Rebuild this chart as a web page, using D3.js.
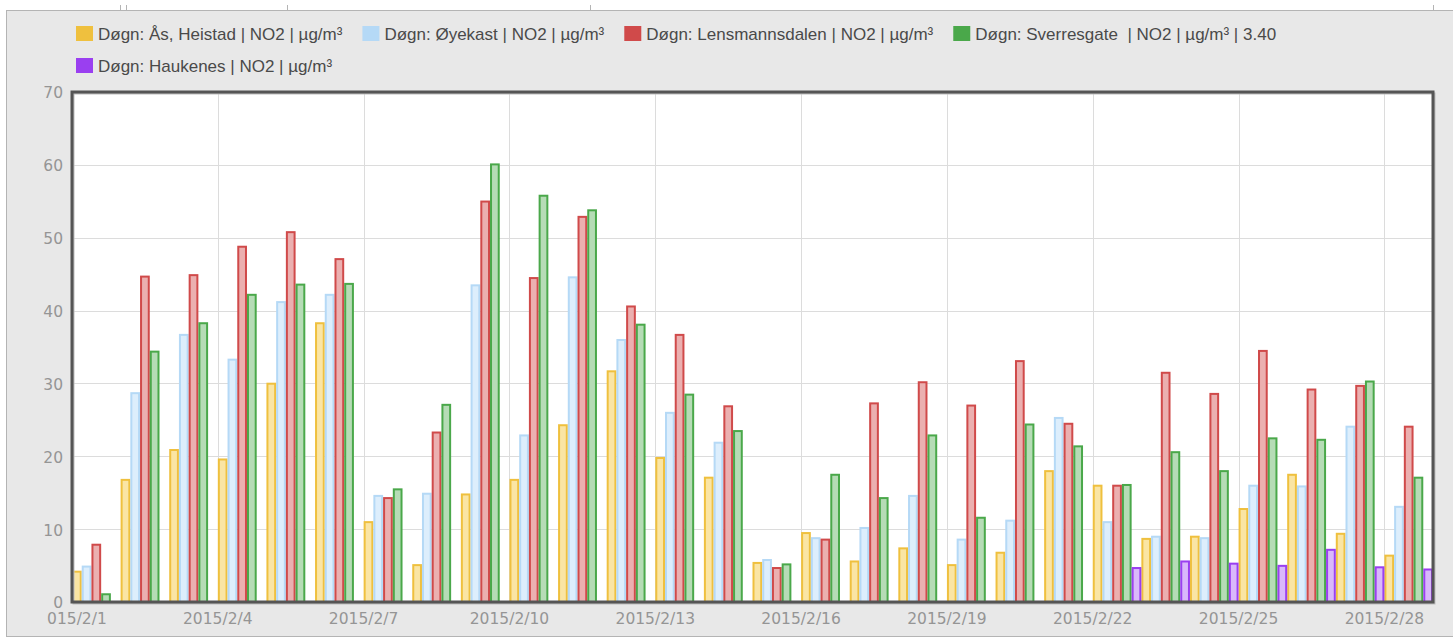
<!DOCTYPE html>
<meta charset="utf-8">
<html lang="no">
<style>
    body {
        margin: 0;
        background: #fff;
    }
    .legend text {
        font: 17px "Liberation Sans", Arial, sans-serif;
        fill: #4a4a4a;
        white-space: pre;
    }
    .axis-label {
        font: 15.5px "DejaVu Sans", sans-serif;
        fill: #959595;
    }
    .grid line {
        stroke: #dcdcdc;
        stroke-width: 1px;
        shape-rendering: crispEdges;
    }
</style>
<head>
    <meta charset="UTF-8">
    <script src="https://d3js.org/d3.v7.min.js"></script>
</head>
<body>
<svg width="1453" height="639"></svg>
</body>
<script>

    // days of february 2015
    var days = d3.range(1, 29);

    var seriesNames = [
        "Døgn: Ås, Heistad | NO2 | µg/m³",
        "Døgn: Øyekast | NO2 | µg/m³",
        "Døgn: Lensmannsdalen | NO2 | µg/m³",
        "Døgn: Sverresgate  | NO2 | µg/m³ | 3.40",
        "Døgn: Haukenes | NO2 | µg/m³"
    ];

    var heistad = [4.3, 16.9, 21.0, 19.7, 30.1, 38.4, 11.1, 5.2, 14.9, 16.9, 24.4, 31.8, 19.9, 17.2,
        5.5, 9.6, 5.7, 7.5, 5.2, 6.9, 18.1, 16.1, 8.8, 9.1, 12.9, 17.6, 9.5, 6.5];
    var oyekast = [5.0, 28.8, 36.8, 33.4, 41.3, 42.3, 14.7, 15.0, 43.6, 23.0, 44.7, 36.1, 26.1, 22.0,
        5.9, 8.9, 10.3, 14.7, 8.7, 11.3, 25.4, 11.1, 9.1, 8.9, 16.1, 16.0, 24.2, 13.2];
    var lensmannsdalen = [8.0, 44.8, 45.0, 48.9, 50.9, 47.2, 14.4, 23.4, 55.1, 44.6, 53.0, 40.7, 36.8, 27.0,
        4.8, 8.7, 27.4, 30.3, 27.1, 33.2, 24.6, 16.1, 31.6, 28.7, 34.6, 29.3, 29.8, 24.2];
    var sverresgate = [1.2, 34.5, 38.4, 42.3, 43.7, 43.8, 15.6, 27.2, 60.2, 55.9, 53.9, 38.2, 28.6, 23.6,
        5.3, 17.6, 14.4, 23.0, 11.7, 24.5, 21.5, 16.2, 20.7, 18.1, 22.6, 22.4, 30.4, 17.2];
    var haukenes = [null, null, null, null, null, null, null, null, null, null, null, null, null, null,
        null, null, null, null, null, null, null, 4.8, 5.7, 5.4, 5.1, 7.3, 4.9, 4.6];

    var yTicks = [0, 10, 20, 30, 40, 50, 60, 70];

    var strokeColors = ["#efc03e", "#b5d9f6", "#d04a4a", "#4aa84a", "#9a3ff0"];
    var fillColors = ["#fae5a4", "#ddeefc", "#ebb0b0", "#b6dcb6", "#d9b8fb"];

    var seriesValues = [heistad, oyekast, lensmannsdalen, sverresgate, haukenes];

    var plot = {left: 72, right: 1433, top: 92, bottom: 602};

    var svg = d3.select("svg");

    // grey panel behind everything
    svg.append("rect")
        .attr("x", 6.5).attr("y", 10.5)
        .attr("width", 1460).attr("height", 626)
        .attr("fill", "#e8e8e8")
        .attr("stroke", "#b4b4b4");

    // bits of the element above, cut off in the screenshot
    [120, 126, 287, 590, 1433].forEach(function (x) {
        svg.append("line")
            .attr("x1", x + 0.5).attr("x2", x + 0.5)
            .attr("y1", 5).attr("y2", 10)
            .attr("stroke", "#b4b4b4");
    });

    var x = d3.scaleTime()
        .domain([new Date(2015, 1, 1), new Date(2015, 2, 1)])
        .range([plot.left, plot.right]);

    var y = d3.scaleLinear()
        .domain([0, 70])
        .range([plot.bottom, plot.top]);

    var dayWidth = x(new Date(2015, 1, 2)) - x(new Date(2015, 1, 1));

    var inner = d3.scaleBand()
        .domain(d3.range(seriesNames.length))
        .range([0, dayWidth])
        .padding(0);

    // plot background
    svg.append("rect")
        .attr("x", plot.left).attr("y", plot.top)
        .attr("width", plot.right - plot.left)
        .attr("height", plot.bottom - plot.top)
        .attr("fill", "#fff");

    // grid
    var grid = svg.append("g").attr("class", "grid");
    grid.selectAll(".h")
        .data(yTicks.slice(1, -1))
        .enter().append("line")
        .attr("x1", plot.left).attr("x2", plot.right)
        .attr("y1", function (d) { return Math.round(y(d)) + 0.5; })
        .attr("y2", function (d) { return Math.round(y(d)) + 0.5; });

    var xTickDates = d3.range(1, 29, 3).map(function (d) { return new Date(2015, 1, d); });

    grid.selectAll(".v")
        .data(xTickDates.slice(1))
        .enter().append("line")
        .attr("y1", plot.top).attr("y2", plot.bottom)
        .attr("x1", function (d) { return Math.round(x(d)) + 0.5; })
        .attr("x2", function (d) { return Math.round(x(d)) + 0.5; });

    // bars
    var barData = [];
    seriesValues.forEach(function (vals, s) {
        vals.forEach(function (v, i) {
            if (v != null) {
                barData.push({series: s, day: days[i], value: v});
            }
        });
    });

    svg.append("g").selectAll("rect")
        .data(barData)
        .enter().append("rect")
        .attr("x", function (d) { return x(new Date(2015, 1, d.day)) + inner(d.series) + 1; })
        .attr("y", function (d) { return y(d.value) + 1; })
        .attr("width", inner.bandwidth() - 2)
        .attr("height", function (d) { return Math.max(0, y(0) - y(d.value) - 1); })
        .attr("fill", function (d) { return fillColors[d.series]; })
        .attr("stroke", function (d) { return strokeColors[d.series]; })
        .attr("stroke-width", 2);

    // frame with small shadow
    svg.append("rect")
        .attr("x", plot.left + 1.5).attr("y", plot.top + 1.5)
        .attr("width", plot.right - plot.left)
        .attr("height", plot.bottom - plot.top)
        .attr("fill", "none")
        .attr("stroke", "#bdbdbd")
        .attr("stroke-width", 2);
    svg.append("rect")
        .attr("x", plot.left).attr("y", plot.top)
        .attr("width", plot.right - plot.left)
        .attr("height", plot.bottom - plot.top)
        .attr("fill", "none")
        .attr("stroke", "#555")
        .attr("stroke-width", 3);

    // y labels
    svg.append("g").selectAll("text")
        .data(yTicks)
        .enter().append("text")
        .attr("class", "axis-label")
        .attr("x", 63)
        .attr("y", function (d) { return y(d) + 1; })
        .attr("dy", "0.35em")
        .attr("text-anchor", "end")
        .text(function (d) { return d; });

    // x labels (the first one is cut on the left in the original)
    svg.append("clipPath").attr("id", "xclip")
        .append("rect").attr("x", 46).attr("y", 604).attr("width", 1400).attr("height", 30);

    var fmt = d3.timeFormat("%Y/%-m/%-d");
    svg.append("g").attr("clip-path", "url(#xclip)")
        .selectAll("text")
        .data(xTickDates)
        .enter().append("text")
        .attr("class", "axis-label")
        .attr("x", function (d) { return x(d); })
        .attr("y", 624)
        .attr("text-anchor", "middle")
        .text(function (d) { return fmt(d); });

    // legend, flowing in two rows
    var legend = svg.append("g").attr("class", "legend");
    var lx = 76, ly = 34;
    seriesNames.forEach(function (name, i) {
        if (i === 4) { lx = 76; ly = 66; }
        var item = legend.append("g");
        item.append("rect")
            .attr("x", lx).attr("y", ly - 8)
            .attr("width", 17).attr("height", 15)
            .attr("fill", strokeColors[i]);
        var t = item.append("text")
            .attr("x", lx + 22).attr("y", ly)
            .attr("dy", "0.35em")
            .text(name);
        lx = lx + 22 + t.node().getComputedTextLength() + 20;
    });

</script>
</html>
